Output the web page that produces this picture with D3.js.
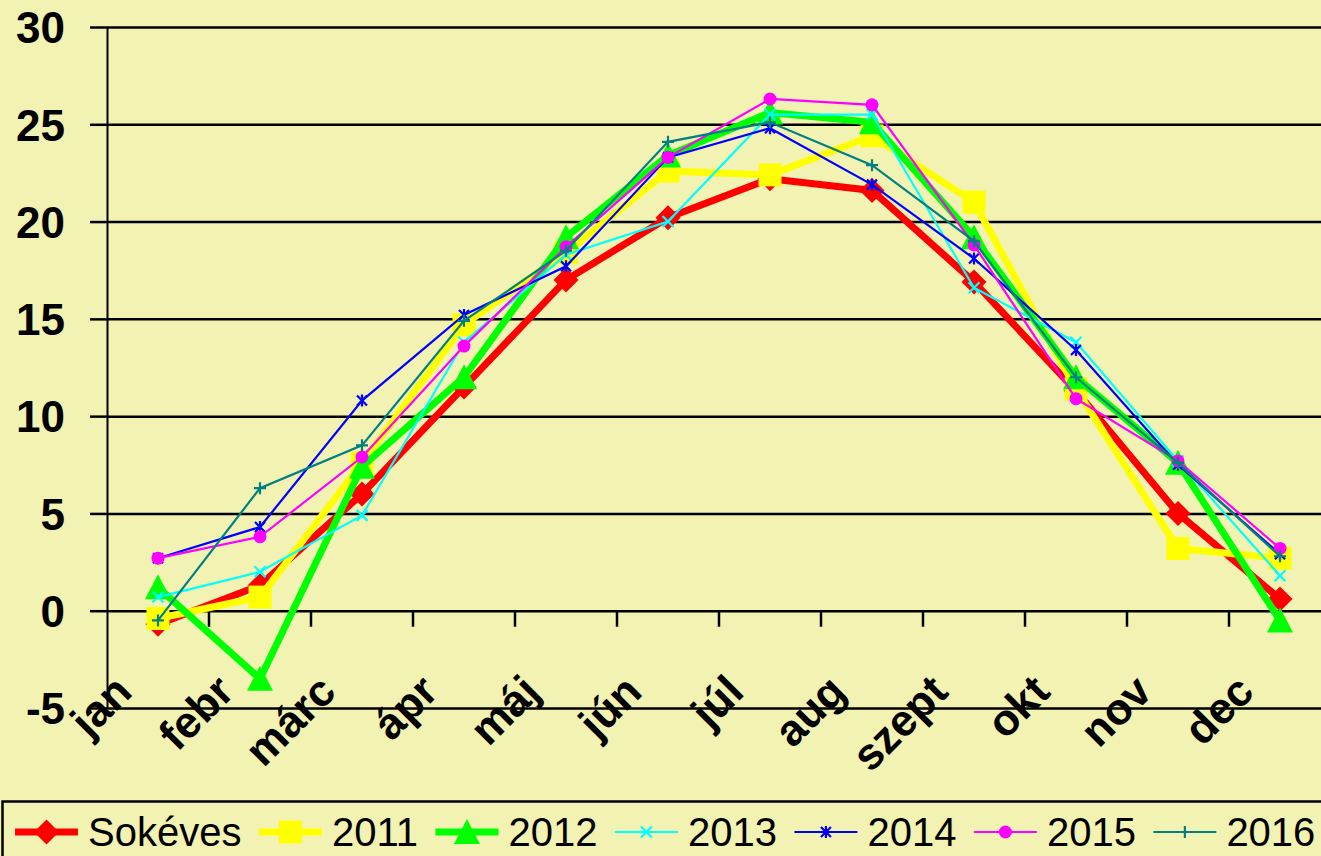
<!DOCTYPE html>
<html><head><meta charset="utf-8">
<script src="https://cdn.jsdelivr.net/npm/d3@7"></script>
<style>
html,body{margin:0;padding:0;background:#f2f2b2;}
svg{display:block;}
</style></head>
<body>
<svg id="chart" width="1321" height="856"></svg>
<script>
const months = ["jan","febr","márc","ápr","máj","jún","júl","aug","szept","okt","nov","dec"];
const yTicks = [-5, 0, 5, 10, 15, 20, 25, 30];
const sokeves = [-0.7, 1.3, 6.0, 11.5, 17.0, 20.2, 22.2, 21.6, 16.9, 11.3, 5.0, 0.6];
const y2011 = [-0.4, 0.7, 7.6, 14.7, 18.4, 22.6, 22.4, 24.4, 21.0, 11.4, 3.2, 2.7];
const y2012 = [1.2, -3.5, 7.4, 12.0, 19.2, 23.4, 25.6, 25.1, 19.2, 12.0, 7.6, -0.5];
const y2013 = [0.7, 2.0, 4.9, 13.8, 18.3, 20.0, 25.5, 25.5, 16.6, 13.8, 7.7, 1.8];
const y2014 = [2.7, 4.3, 10.8, 15.2, 17.7, 23.3, 24.8, 21.9, 18.1, 13.4, 7.5, 2.9];
const y2015 = [2.7, 3.8, 7.9, 13.6, 18.7, 23.3, 26.3, 26.0, 18.8, 10.9, 7.7, 3.2];
const y2016 = [-0.5, 6.3, 8.5, 14.9, 18.5, 24.1, 25.1, 22.9, 19.0, 12.0, 7.6, 2.8];
const seriesNames = ["Sokéves", "2011", "2012", "2013", "2014", "2015", "2016"];

const series = [
  {name: seriesNames[0], values: sokeves, color: "#ff0000", width: 7, marker: "diamond"},
  {name: seriesNames[1], values: y2011, color: "#ffff00", width: 7, marker: "square"},
  {name: seriesNames[2], values: y2012, color: "#00ff00", width: 7, marker: "triangle"},
  {name: seriesNames[3], values: y2013, color: "#00ffff", width: 2.2, marker: "x"},
  {name: seriesNames[4], values: y2014, color: "#0000ff", width: 2.2, marker: "star"},
  {name: seriesNames[5], values: y2015, color: "#ff00ff", width: 2.2, marker: "circle"},
  {name: seriesNames[6], values: y2016, color: "#008080", width: 2.2, marker: "plus"}
];

const svg = d3.select("#chart");
const W = 1321, H = 856;
svg.append("rect").attr("width", W).attr("height", H).attr("fill", "#f2f2b2");

const plotLeft = 107, band = 102, plotTop = 27, plotBottom = 708;
const x = d3.scaleBand().domain(months).range([plotLeft, plotLeft + band * months.length]).padding(0);
const y = d3.scaleLinear().domain([-5, 30]).range([plotBottom, plotTop]);

// gridlines
const grid = svg.append("g").attr("transform", `translate(${plotLeft},0)`)
  .call(d3.axisLeft(y).tickValues(yTicks).tickSize(-(W - plotLeft)).tickFormat(""));
grid.select(".domain").remove();
grid.selectAll("line").attr("stroke", "#000").attr("stroke-width", 2.5);

// y axis
const yAxis = svg.append("g").attr("transform", `translate(${plotLeft},0)`)
  .call(d3.axisLeft(y).tickValues(yTicks).tickSize(17).tickSizeOuter(0).tickPadding(25)
    .tickFormat(d => String(d)));
yAxis.select(".domain").attr("stroke", "#000").attr("stroke-width", 2);
yAxis.selectAll(".tick line").attr("stroke", "#000").attr("stroke-width", 2.5);
yAxis.selectAll(".tick text")
  .attr("font-family", "'Liberation Sans', Arial, sans-serif")
  .attr("font-weight", "bold").attr("font-size", 44).attr("fill", "#000")
  .attr("dy", "0.36em");

// x axis at 0 with ticks between categories
const xAxis = svg.append("g").attr("transform", `translate(0,${y(0)})`)
  .call(d3.axisBottom(x).tickSize(16).tickSizeOuter(0).tickFormat(""));
xAxis.select(".domain").remove();
xAxis.selectAll(".tick line").attr("stroke", "#000").attr("stroke-width", 2.5)
  .attr("transform", `translate(${band / 2},0)`);

// x labels at bottom, rotated
svg.append("g").selectAll("text").data(months).join("text")
  .attr("transform", d => `translate(${x(d) + band / 2 - 24},${694}) rotate(-45)`)
  .attr("text-anchor", "end")
  .attr("font-family", "'Liberation Sans', Arial, sans-serif")
  .attr("font-weight", "bold").attr("font-size", 44).attr("fill", "#000")
  .text(d => d);

function markerPath(type) {
  switch (type) {
    case "diamond": return "M0,-12.5L12.5,0L0,12.5L-12.5,0Z";
    case "square": return "M-11.5,-11.5H11.5V11.5H-11.5Z";
    case "triangle": return "M0,-13L13,12H-13Z";
    default: return null;
  }
}

function drawMarker(g, s, cx, cy) {
  const m = g.append("g").attr("transform", `translate(${cx},${cy})`);
  const p = markerPath(s.marker);
  if (p) { m.append("path").attr("d", p).attr("fill", s.color); return; }
  if (s.marker === "circle") {
    m.append("circle").attr("r", 6.5).attr("fill", s.color);
  } else if (s.marker === "x") {
    m.append("path").attr("d", "M-5.5,-5.5L5.5,5.5M-5.5,5.5L5.5,-5.5")
      .attr("stroke", s.color).attr("stroke-width", 2.2);
  } else if (s.marker === "star") {
    m.append("path").attr("d", "M-5,-5L5,5M-5,5L5,-5M0,-6V6")
      .attr("stroke", s.color).attr("stroke-width", 2.2);
  } else if (s.marker === "plus") {
    m.append("path").attr("d", "M-6,0H6M0,-6V6")
      .attr("stroke", s.color).attr("stroke-width", 2.2);
  }
}

const line = d3.line().x((d, i) => x(months[i]) + band / 2).y(d => y(d));
const plot = svg.append("g");
series.forEach(s => {
  const g = plot.append("g");
  g.append("path").datum(s.values).attr("d", line)
    .attr("fill", "none").attr("stroke", s.color).attr("stroke-width", s.width)
    .attr("stroke-linejoin", "miter");
  s.values.forEach((v, i) => drawMarker(g, s, x(months[i]) + band / 2, y(v)));
});

// legend
const lg = svg.append("g");
lg.append("rect").attr("x", 2.5).attr("y", 801.5).attr("width", W + 10).attr("height", 80)
  .attr("fill", "#f2f2b2").attr("stroke", "#000").attr("stroke-width", 2.5);
let lx = 15;
const ly = 832;
series.forEach(s => {
  const g = lg.append("g");
  g.append("line").attr("x1", lx).attr("x2", lx + 63).attr("y1", ly).attr("y2", ly)
    .attr("stroke", s.color).attr("stroke-width", s.width);
  drawMarker(g, s, lx + 31.5, ly);
  const t = g.append("text").attr("x", lx + 73).attr("y", ly + 14)
    .attr("font-family", "'Liberation Sans', Arial, sans-serif")
    .attr("font-size", 40).attr("fill", "#000").text(s.name);
  lx = lx + 73 + t.node().getComputedTextLength() + 17.5;
});
</script>
</body></html>
